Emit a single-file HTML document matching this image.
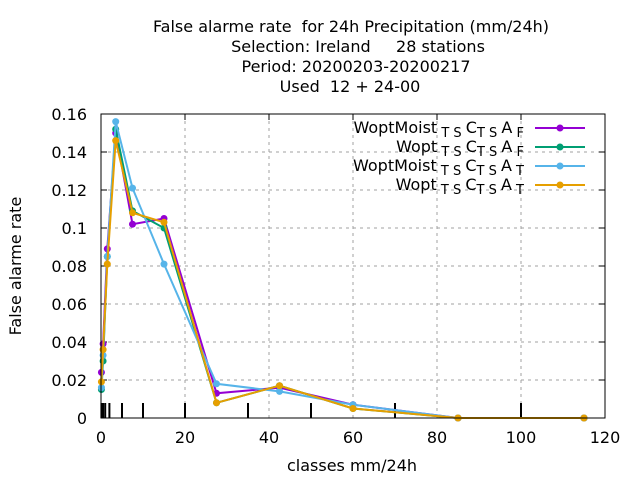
<!DOCTYPE html>
<html><head><meta charset="utf-8"><style>
body{margin:0;background:#fff}
svg{font-family:"DejaVu Sans","Liberation Sans",sans-serif;font-size:16px}
text{white-space:pre}
</style></head><body>
<svg id="c" width="640" height="480">
<g text-anchor="middle" font-size="16">
<text x="351" y="32">False alarme rate  for 24h Precipitation (mm/24h)</text>
<text x="358" y="52">Selection: Ireland     28 stations</text>
<text x="356" y="72">Period: 20200203-20200217</text>
<text x="350" y="92">Used  12 + 24-00</text>
</g>
<text transform="translate(21,266) rotate(-90)" text-anchor="middle">False alarme rate</text>
<text x="352" y="471" text-anchor="middle">classes mm/24h</text>
<g id="grid"></g><g id="ticks"></g><g id="series"></g>
<rect x="101" y="114" width="504" height="304" fill="none" stroke="#000"/>
<g id="legend"></g>
</svg>
<script>
const xTicks=[0,20,40,60,80,100,120];
const yTicks=[0,0.02,0.04,0.06,0.08,0.1,0.12,0.14,0.16];
const yTickLabels=["0","0.02","0.04","0.06","0.08","0.1","0.12","0.14","0.16"];
const classBounds=[0.1,0.2,0.5,1,2,5,10,20,35,50,70,100];
const classes=[0.1,0.5,1.5,3.5,7.5,15,27.5,42.5,60,85,115];
const seriesNames=["WoptMoist","Wopt","WoptMoist","Wopt"];
const seriesSub=["F","F","T","T"];
const colors=["#9400d3","#009e73","#56b4e9","#e69f00"];
const purple=[0.024,0.039,0.089,0.150,0.102,0.105,0.013,0.016,0.007,0,0];
const green=[0.015,0.030,0.085,0.152,0.109,0.100,0.008,0.017,0.005,0,0];
const blue=[0.016,0.033,0.085,0.156,0.121,0.081,0.018,0.014,0.007,0,0];
const orange=[0.019,0.036,0.081,0.146,0.108,0.103,0.008,0.017,0.005,0,0];
const allSeries=[purple,green,blue,orange];
const X=v=>101+v*504/120, Y=v=>418-v*304/0.16;
const NS="http://www.w3.org/2000/svg";
function mk(t,a,p){const e=document.createElementNS(NS,t);for(const k in a)e.setAttribute(k,a[k]);p.appendChild(e);return e;}
const grid=document.getElementById('grid'),ticks=document.getElementById('ticks'),ser=document.getElementById('series'),leg=document.getElementById('legend');
xTicks.forEach(v=>{
 if(v>0&&v<120){const l=mk('line',{x1:X(v),x2:X(v),y1:114,y2:418,stroke:'#a0a0a0','stroke-dasharray':'3,4'},grid);
 
 }
 const t=mk('text',{x:X(v),y:443,'text-anchor':'middle'},ticks);t.textContent=v;
 
 
 mk('line',{x1:X(v),x2:X(v),y1:114,y2:120,stroke:'#000'},ticks);
});
yTicks.forEach((v,i)=>{
 if(v>0&&v<0.16){const l=mk('line',{x1:101,x2:605,y1:Y(v),y2:Y(v),stroke:'#a0a0a0','stroke-dasharray':'3,4'},grid);
 
 }
 const t=mk('text',{x:87,y:Y(v)+6,'text-anchor':'end'},ticks);t.textContent=yTickLabels[i];
 
 
 mk('line',{x1:101,x2:107,y1:Y(v),y2:Y(v),stroke:'#000'},ticks);
 mk('line',{x1:599,x2:605,y1:Y(v),y2:Y(v),stroke:'#000'},ticks);
});
classBounds.forEach(v=>{const l=mk('line',{x1:X(v),x2:X(v),y1:403,y2:418,stroke:'#000','stroke-width':2},ticks);
 
 });
allSeries.forEach((s,i)=>{
 const g=mk('g',{},ser);
 
 
 mk('polyline',{points:s.map((v,j)=>X(classes[j])+','+Y(v)).join(' '),fill:'none',stroke:colors[i],'stroke-width':2},g);
 s.forEach((v,j)=>{const p=mk('circle',{cx:X(classes[j]),cy:Y(v),r:3.5,fill:colors[i]},g);
  
  });
 const ly=128+i*19;
 const t=mk('text',{x:524,y:ly+5,'text-anchor':'end'},leg);
 
 
 t.innerHTML=seriesNames[i]+'<tspan font-size="13" dy="4"> T S </tspan><tspan dy="-4">C</tspan><tspan font-size="13" dy="4">T S </tspan><tspan dy="-4">A</tspan><tspan font-size="13" dy="4"> '+seriesSub[i]+'</tspan>';
 mk('line',{x1:535,x2:585,y1:ly,y2:ly,stroke:colors[i],'stroke-width':2},leg);
 mk('circle',{cx:560,cy:ly,r:3.5,fill:colors[i]},leg);
});
</script>
</body></html>
